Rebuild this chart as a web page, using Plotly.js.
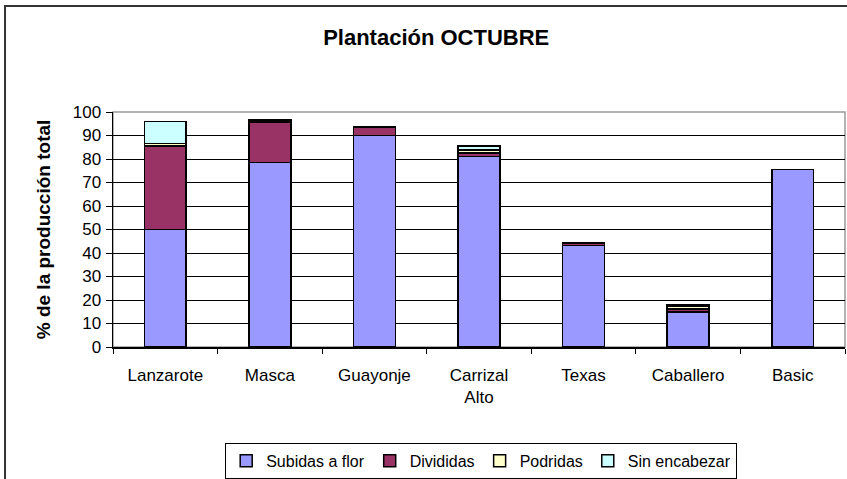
<!DOCTYPE html>
<html><head><meta charset="utf-8">
<script src="https://cdn.plot.ly/plotly-3.0.1.min.js"></script>
<style>html,body{margin:0;padding:0;background:#fff}#c{width:847px;height:479px}</style>
</head><body><div id="c"></div>
<script>
const categories = ["Lanzarote", "Masca", "Guayonje", "Carrizal<br>Alto", "Texas", "Caballero", "Basic"];
const subidas = [50, 78.5, 90, 81, 43.3, 14.8, 75.5];
const divididas = [35.5, 17.3, 3.7, 1.5, 1, 1.4, 0];
const podridas = [1, 0.5, 0, 1.3, 0, 1.2, 0];
const sinEncabezar = [9.5, 0.5, 0, 1.7, 0, 0.4, 0];
const seriesNames = ["Subidas a flor", "Divididas", "Podridas", "Sin encabezar"];
const colors = ["#9999FF", "#993366", "#FFFFCC", "#CCFFFF"];
const yTicks = [0,10,20,30,40,50,60,70,80,90,100];

const all = [subidas, divididas, podridas, sinEncabezar];
const traces = all.map((vals, i) => ({
  type: 'bar', x: categories, y: vals, name: seriesNames[i],
  marker: {color: colors[i], line: {color: '#000', width: 1.5}},
  width: 0.4
}));

const fam = 'Liberation Sans, Arial, sans-serif';
const font = {family: fam, size: 17, color: '#000'};
const layout = {
  width: 847, height: 479,
  margin: {l: 113, r: 2, t: 112, b: 132, autoexpand: false},
  barmode: 'stack',
  paper_bgcolor: '#fff', plot_bgcolor: '#fff',
  font: font,
  title: {text: '<b>Plantación OCTUBRE</b>', font: {family: fam, size: 22, color: '#000'},
          xref: 'container', x: 0.515, xanchor: 'center', yref: 'container', y: 0.923, yanchor: 'middle'},
  xaxis: {type: 'category', showline: true, linecolor: '#000', linewidth: 1.5, ticks: 'outside', tickson: 'boundaries',
          ticklen: 5, tickcolor: '#000', showgrid: false, tickfont: font, ticklabelstandoff: 12},
  yaxis: {range: [0, 100], tickvals: yTicks, ticktext: yTicks.map(String), showline: true, linecolor: '#000', linewidth: 1.5,
          ticks: 'outside', ticklen: 6, tickcolor: '#000', showgrid: true, gridcolor: '#000', gridwidth: 1,
          zeroline: false, tickfont: font, ticklabelstandoff: 1,
          title: {text: '<b>% de la producción total</b>', font: {family: fam, size: 19, color: '#000'}, standoff: 17}},
  legend: {orientation: 'h', x: 0.503, xanchor: 'center', y: -0.408, yanchor: 'top',
           bordercolor: '#000', borderwidth: 1, font: {family: fam, size: 16, color: '#000'},
           traceorder: 'normal', itemwidth: 20, tracegroupgap: 0},
  shapes: [
    {type: 'rect', xref: 'paper', yref: 'paper', x0: 0, x1: 1, y0: 0, y1: 1, line: {color: '#999', width: 1.5}, layer: 'below'},
    {type: 'rect', xref: 'paper', yref: 'paper', x0: -0.1475, x1: 1.2, y0: -1, y1: 1.451, line: {color: '#333', width: 2}, layer: 'below'}
  ],
  showlegend: true
};
Plotly.newPlot('c', traces, layout, {displayModeBar: false, staticPlot: true});
</script></body></html>
